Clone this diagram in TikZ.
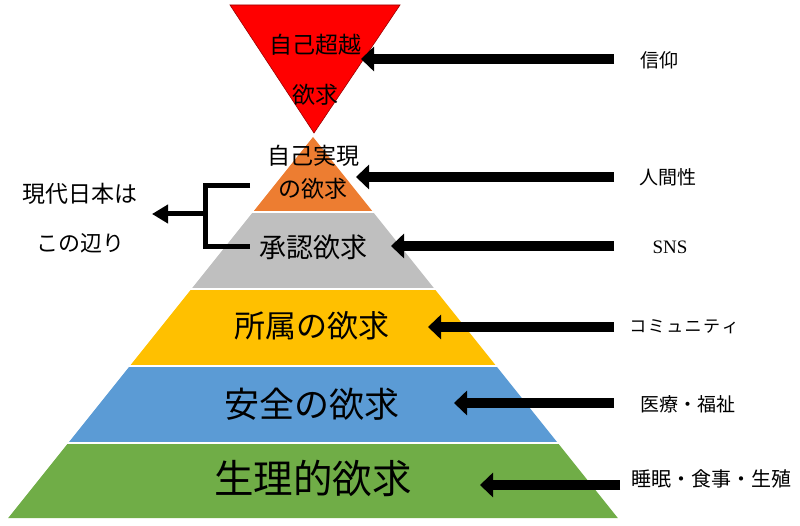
\documentclass[tikz,border=0pt]{standalone}
\usepackage{fontspec}
\setmainfont{Noto Sans CJK JP}
\newfontfamily\latinserif{Liberation Serif}
\usetikzlibrary{arrows.meta}
\definecolor{cred}{HTML}{FF0000}
\definecolor{corange}{HTML}{ED7D31}
\definecolor{cgray}{HTML}{BFBFBF}
\definecolor{cyellow}{HTML}{FFC000}
\definecolor{cblue}{HTML}{5B9BD5}
\definecolor{cgreen}{HTML}{70AD47}
\tikzset{
  bigarrow/.style={line width=10pt,-{Triangle[length=13pt,width=24pt]}},
  smallarrow/.style={line width=5pt,-{Triangle[length=16pt,width=18pt]}},
  bracketline/.style={line width=5pt},
  sep/.style={white,line width=2pt},
  lbl/.style={inner sep=0pt,font=\fontsize{19}{19}\selectfont},
  band/.style={inner sep=0pt,text=black}
}
\begin{document}
\begin{tikzpicture}[x=1pt,y=-1pt]
\useasboundingbox (0,0) rectangle (800,526);
% top inverted triangle
\draw[fill=cred,draw=red!60!black,line width=0.6pt] (230,5) -- (400,5) -- (314,133) -- cycle;
% pyramid bands
\fill[corange] (313,137) -- (373,212) -- (253,212) -- cycle;
\fill[cgray] (253,212) -- (373,212) -- (434.6,289) -- (191.4,289) -- cycle;
\fill[cyellow] (191.4,289) -- (434.6,289) -- (496.2,366) -- (129.8,366) -- cycle;
\fill[cblue] (129.8,366) -- (496.2,366) -- (557.8,443) -- (68.2,443) -- cycle;
\fill[cgreen] (68.2,443) -- (557.8,443) -- (617.8,518) -- (8.2,518) -- cycle;
\draw[sep] (240,212) -- (390,212);
\draw[sep] (180,289) -- (450,289);
\draw[sep] (115,366) -- (510,366);
\draw[sep] (55,443) -- (570,443);
% band texts
\node[band,font=\fontsize{23}{23}\selectfont] (b0a) at (315,45) {自己超越};
\node[band,font=\fontsize{23}{23}\selectfont] (b0b) at (315,95) {欲求};
\node[band,font=\fontsize{23}{23}\selectfont] (b1a) at (313,156) {自己実現};
\node[band,font=\fontsize{23}{23}\selectfont] (b1b) at (313,189) {の欲求};
\node[band,font=\fontsize{27}{27}\selectfont] (b2) at (313,247) {承認欲求};
\node[band,font=\fontsize{31}{31}\selectfont] (b3) at (312,326) {所属の欲求};
\node[band,font=\fontsize{35}{35}\selectfont] (b4) at (312,404) {安全の欲求};
\node[band,font=\fontsize{39.5}{39.5}\selectfont] (b5) at (313,478) {生理的欲求};
% right labels
\node[lbl] (l0) at (659,60) {信仰};
\node[lbl] (l1) at (668,177) {人間性};
\node[lbl,font=\latinserif\fontsize{19}{19}\selectfont] (l2) at (670,247) {SNS};
\node[lbl,font=\fontsize{17}{17}\selectfont] (l3) at (684,327) {コ\hspace{1.5pt}ミ\hspace{1.5pt}ュ\hspace{1.5pt}ニ\hspace{1.5pt}テ\hspace{1.5pt}ィ};
\node[lbl] (l4) at (688,404) {医療・福祉};
\node[lbl,font=\fontsize{20}{20}\selectfont] (l5) at (711,479) {睡眠・食事・生殖};
% arrow coordinates
\coordinate (s0) at (614,59);  \coordinate (t0) at (361,59);
\coordinate (s1) at (614,177); \coordinate (t1) at (356,177);
\coordinate (s2) at (614,246); \coordinate (t2) at (391,246);
\coordinate (s3) at (614,327); \coordinate (t3) at (428,327);
\coordinate (s4) at (614,403); \coordinate (t4) at (454,403);
\coordinate (s5) at (620,485); \coordinate (t5) at (480,485);
\draw[bigarrow] (s0) -- (t0);
\draw[bigarrow] (s1) -- (t1);
\draw[bigarrow] (s2) -- (t2);
\draw[bigarrow] (s3) -- (t3);
\draw[bigarrow] (s4) -- (t4);
\draw[bigarrow] (s5) -- (t5);
% left labels and bracket
\node[band,font=\fontsize{23}{23}\selectfont] (m1) at (80,194) {現代日本は};
\node[band,font=\fontsize{22}{22}\selectfont] (m2) at (80,243) {この辺り};
\coordinate (k1) at (250,186);
\coordinate (k2) at (250,247);
\coordinate (kc) at (205,214);
\coordinate (kt) at (152,214);
\draw[bracketline] (k1) -- (205,186) -- (205,247) -- (k2);
\draw[smallarrow] ([xshift=2.5pt]kc) -- (kt);
\end{tikzpicture}
\end{document}
